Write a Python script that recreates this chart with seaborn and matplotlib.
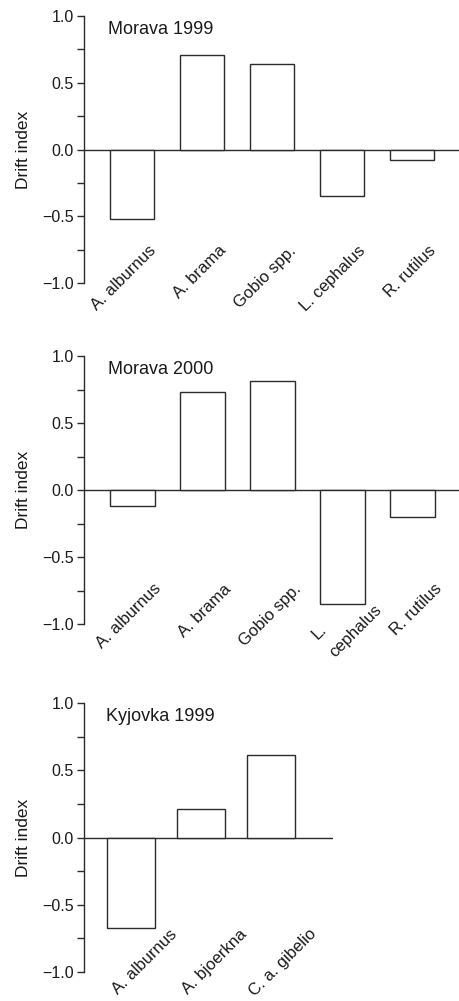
import matplotlib
matplotlib.use("Agg")
import matplotlib.pyplot as plt
import matplotlib.transforms as mtransforms
import seaborn as sns
import pandas as pd

# Drift index per species, by river and year
species_morava = ["A. alburnus", "A. brama", "Gobio spp.", "L. cephalus", "R. rutilus"]
species_morava_2000 = ["A. alburnus", "A. brama", "Gobio spp.", "L.\ncephalus", "R. rutilus"]
species_kyjovka = ["A. alburnus", "A. bjoerkna", "C. a. gibelio"]

drift_morava_1999 = [-0.52, 0.71, 0.64, -0.35, -0.08]
drift_morava_2000 = [-0.12, 0.73, 0.81, -0.85, -0.20]
drift_kyjovka_1999 = [-0.67, 0.21, 0.61]

titles = ["Morava 1999", "Morava 2000", "Kyjovka 1999"]
yticks = [-1.0, -0.5, 0.0, 0.5, 1.0]
ytick_labels = ["\u22121.0", "\u22120.5", "0.0", "0.5", "1.0"]

sns.set_theme(style="ticks")
plt.rcParams["font.family"] = ["Liberation Sans", "DejaVu Sans"]
INK = "#2b2b2b"
TEXT = "#1a1a1a"

W, H = 460, 1001
fig = plt.figure(figsize=(W / 100, H / 100), dpi=100)

panels = [
    # categories, values, axes box in px (left, top, right, bottom), xlim, bar width,
    # label anchor (dx from bar centre, y in data units)
    (species_morava, drift_morava_1999, (84, 16, 460, 283), (-0.69, 4.68), 0.63, 0.30, -0.74),
    (species_morava_2000, drift_morava_2000, (84, 356, 460, 624), (-0.69, 4.68), 0.64, 0.38, -0.72),
    (species_kyjovka, drift_kyjovka_1999, (84, 703, 333, 972), (-0.67, 2.89), 0.69, 0.62, -0.70),
]

for (cats, vals, (l, t, r, b), xlim, bw, ldx, ly), title in zip(panels, titles):
    ax = fig.add_axes([l / W, 1 - b / H, (r - l) / W, (b - t) / H])
    df = pd.DataFrame({"species": cats, "drift": vals})
    sns.barplot(data=df, x="species", y="drift", color="white", saturation=1,
                edgecolor=INK, linewidth=1.0, width=bw, ax=ax)
    ax.axhline(0, color=INK, lw=1.0, zorder=0.5)
    ax.set_xlim(*xlim)
    ax.set_ylim(-1.0, 1.0)
    for s in ("top", "right", "bottom"):
        ax.spines[s].set_visible(False)
    ax.spines["left"].set_color(INK)
    ax.spines["left"].set_linewidth(1.0)
    ax.set_xticks([])
    ax.set_xlabel("")
    ax.set_yticks(yticks)
    ax.set_yticklabels(ytick_labels, fontsize=11.5, color=TEXT)
    ax.set_yticks([-0.75, -0.25, 0.25, 0.75], minor=True)
    ax.tick_params(axis="y", which="both", direction="out", length=5, width=1.0,
                   color=INK, pad=2.5)
    ax.set_ylabel("Drift index", fontsize=12.5, color=TEXT)
    label_tf = mtransforms.blended_transform_factory(fig.transFigure, ax.transAxes)
    ax.yaxis.set_label_coords(31 / W, 0.5, transform=label_tf)
    ax.text(-0.35, 0.9, title, fontsize=13, color=TEXT, ha="left", va="center")
    for i, name in enumerate(cats):
        two_line = "\n" in name
        ax.text(i + ldx + (0.02 if two_line else 0.0), ly - (0.09 if two_line else 0.0),
                name, rotation=45, rotation_mode="anchor",
                ha="right", va="center", multialignment="left",
                fontsize=12, color=TEXT, linespacing=1.8)
    ax.patch.set_visible(False)

fig.savefig("out.png", dpi=100)
